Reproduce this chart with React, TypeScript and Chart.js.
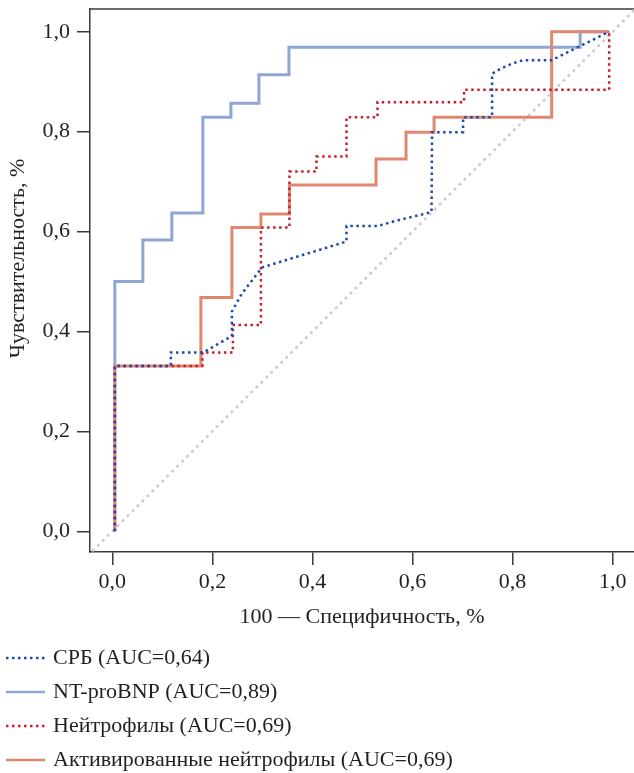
import React, { useEffect, useRef } from 'react';
import { Chart, registerables } from 'chart.js';

Chart.register(...registerables);

// ---- data ----
const tickValues = [0, 0.2, 0.4, 0.6, 0.8, 1.0];
const xTitle = '100 — Специфичность, %';
const yTitle = 'Чувствительность, %';

const seriesNames = [
  'СРБ (AUC=0,64)',
  'NT-proBNP (AUC=0,89)',
  'Нейтрофилы (AUC=0,69)',
  'Активированные нейтрофилы (AUC=0,69)',
];

// СРБ (blue dotted)
const crpX = [0.005, 0.005, 0.117, 0.117, 0.182, 0.239, 0.239, 0.259, 0.299, 0.468, 0.468, 0.53, 0.565, 0.638, 0.639, 0.701, 0.701, 0.759, 0.759, 0.778, 0.801, 0.821, 0.878, 0.993];
const crpY = [0, 0.331, 0.331, 0.358, 0.358, 0.391, 0.44, 0.476, 0.528, 0.58, 0.611, 0.611, 0.621, 0.639, 0.799, 0.799, 0.829, 0.829, 0.916, 0.927, 0.937, 0.943, 0.943, 1.0];

// NT-proBNP (light blue solid)
const bnpX = [0.005, 0.005, 0.061, 0.061, 0.119, 0.119, 0.181, 0.181, 0.237, 0.237, 0.293, 0.293, 0.353, 0.353, 0.935, 0.935, 0.993];
const bnpY = [0, 0.5, 0.5, 0.583, 0.583, 0.637, 0.637, 0.829, 0.829, 0.857, 0.857, 0.914, 0.914, 0.969, 0.969, 1.0, 1.0];

// Нейтрофилы (red dotted)
const neuX = [0.005, 0.005, 0.18, 0.18, 0.241, 0.241, 0.297, 0.297, 0.354, 0.354, 0.408, 0.408, 0.468, 0.468, 0.53, 0.53, 0.703, 0.703, 0.993, 0.993];
const neuY = [0, 0.331, 0.331, 0.358, 0.358, 0.413, 0.413, 0.608, 0.608, 0.72, 0.72, 0.75, 0.75, 0.829, 0.829, 0.859, 0.859, 0.884, 0.884, 1.0];

// Активированные нейтрофилы (salmon solid)
const actX = [0.005, 0.005, 0.177, 0.177, 0.239, 0.239, 0.297, 0.297, 0.354, 0.354, 0.527, 0.527, 0.587, 0.587, 0.643, 0.643, 0.878, 0.878, 0.993];
const actY = [0, 0.331, 0.331, 0.468, 0.468, 0.608, 0.608, 0.635, 0.635, 0.693, 0.693, 0.745, 0.745, 0.799, 0.799, 0.829, 0.829, 1.0, 1.0];

// reference diagonal
const diagX = [-0.05, 1.05];
const diagY = [-0.05, 1.05];

// ---- styles ----
const FONT = "'Liberation Serif', 'Times New Roman', serif";
const TEXT = '#231f20';
const AXIS = '#3a3a3a';
const colCrp = '#1c4aae';
const colBnp = '#8fa6d4';
const colNeu = '#c9202b';
const colAct = '#e0876f';
const colDiag = '#cdcdcd';

const pts = (xs: number[], ys: number[]) => xs.map((x, i) => ({ x, y: ys[i] }));
const fmt = (v: number) => v.toFixed(1).replace('.', ',');

const overlay = {
  id: 'overlay',
  beforeDatasetsDraw(chart: any) {
    const { ctx, chartArea } = chart;
    ctx.save();
    ctx.strokeStyle = AXIS;
    ctx.lineWidth = 1.5;
    ctx.beginPath();
    ctx.moveTo(chartArea.left, chartArea.top);
    ctx.lineTo(chartArea.right, chartArea.top);
    ctx.stroke();
    ctx.restore();
  },
  afterDraw(chart: any) {
    const { ctx, chartArea } = chart;
    ctx.save();
    ctx.fillStyle = TEXT;
    ctx.font = `22px ${FONT}`;
    ctx.textBaseline = 'middle';
    // x title
    ctx.textAlign = 'center';
    ctx.fillText(xTitle, (chartArea.left + chartArea.right) / 2, chartArea.bottom + 65);
    // y title
    ctx.save();
    ctx.translate(18, (chartArea.top + chartArea.bottom) / 2 - 22);
    ctx.rotate(-Math.PI / 2);
    ctx.fillText(yTitle, 0, 0);
    ctx.restore();
    // legend
    ctx.textAlign = 'left';
    const legendSets = chart.data.datasets.filter((d: any) => d.legendIndex !== undefined)
      .sort((a: any, b: any) => a.legendIndex - b.legendIndex);
    legendSets.forEach((d: any, i: number) => {
      const y = chartArea.bottom + 106 + i * 34;
      ctx.save();
      ctx.strokeStyle = d.borderColor;
      ctx.lineWidth = d.legendWidth;
      ctx.setLineDash(d.borderDash || []);
      ctx.beginPath();
      ctx.moveTo(6, y);
      ctx.lineTo(45, y);
      ctx.stroke();
      ctx.restore();
      ctx.fillText(d.label, 53, y);
    });
    ctx.restore();
  },
};

export default function App() {
  const ref = useRef<HTMLCanvasElement>(null);
  useEffect(() => {
    if (!ref.current) return;
    const setTicks = (s: any) => { s.ticks = tickValues.map((v) => ({ value: v })); };
    const chart = new Chart(ref.current, {
      type: 'line',
      data: {
        datasets: [
          { label: seriesNames[0], data: pts(crpX, crpY), borderColor: colCrp, borderWidth: 2.5, borderDash: [2.5, 3.5], order: 0, legendIndex: 0, legendWidth: 2.5 } as any,
          { label: seriesNames[2], data: pts(neuX, neuY), borderColor: colNeu, borderWidth: 2.5, borderDash: [2.5, 3.5], order: 1, legendIndex: 2, legendWidth: 2.5 } as any,
          { label: seriesNames[3], data: pts(actX, actY), borderColor: colAct, borderWidth: 3, order: 2, legendIndex: 3, legendWidth: 2.5 } as any,
          { label: seriesNames[1], data: pts(bnpX, bnpY), borderColor: colBnp, borderWidth: 3, order: 3, legendIndex: 1, legendWidth: 2.5 } as any,
          { label: 'diag', data: pts(diagX, diagY), borderColor: colDiag, borderWidth: 2.5, borderDash: [3, 4], order: 4, clip: 0 } as any,
        ],
      },
      options: {
        animation: false,
        responsive: false,
        maintainAspectRatio: false,
        layout: { padding: { top: 9, right: 0, bottom: 0, left: 0 } },
        elements: { point: { radius: 0 }, line: { tension: 0, fill: false } },
        plugins: { legend: { display: false }, tooltip: { enabled: false } },
        scales: {
          x: {
            type: 'linear',
            min: -0.0446,
            max: 1.0426,
            afterBuildTicks: setTicks,
            afterFit: (s: any) => { s.height = 221; s.paddingLeft = 0; s.paddingRight = 0; },
            grid: { drawOnChartArea: false, drawTicks: true, tickLength: 13, color: AXIS, lineWidth: 1.5 },
            border: { display: true, color: AXIS, width: 1.5 },
            ticks: { font: { family: FONT, size: 22 }, color: TEXT, padding: 4, callback: (v: any) => fmt(Number(v)), maxRotation: 0, autoSkip: false },
          },
          y: {
            type: 'linear',
            min: -0.0415,
            max: 1.0455,
            afterBuildTicks: setTicks,
            afterFit: (s: any) => { s.width = 90; s.paddingTop = 0; s.paddingBottom = 0; },
            grid: { drawOnChartArea: false, drawTicks: true, tickLength: 13, color: AXIS, lineWidth: 1.5 },
            border: { display: true, color: AXIS, width: 1.5 },
            ticks: { font: { family: FONT, size: 22 }, color: TEXT, padding: 7, callback: (v: any) => fmt(Number(v)), autoSkip: false },
          },
        },
      } as any,
      plugins: [overlay],
    });
    return () => chart.destroy();
  }, []);
  return (
    <div style={{ position: 'absolute', left: 0, top: 0, width: 634, height: 773, background: '#fff' }}>
      <canvas ref={ref} width={634} height={773} style={{ display: 'block' }} />
    </div>
  );
}
